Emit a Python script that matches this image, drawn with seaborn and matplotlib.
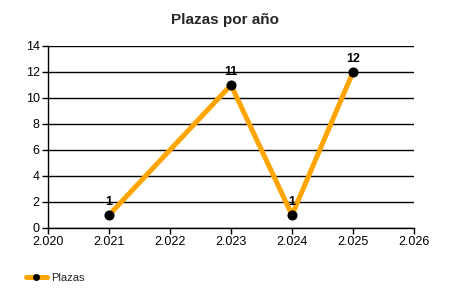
import matplotlib
matplotlib.use("Agg")
import matplotlib.pyplot as plt
import seaborn as sns
import pandas as pd
from matplotlib.ticker import FuncFormatter, MultipleLocator
from matplotlib.lines import Line2D

years = [2021, 2023, 2024, 2025]
plazas = [1, 11, 1, 12]
title = "Plazas por año"
series_name = "Plazas"

sns.set_style("white")
plt.rcParams['font.family'] = ['Liberation Sans', 'DejaVu Sans']

df = pd.DataFrame({"Año": years, series_name: plazas})

fig = plt.figure(figsize=(4.5, 3.0), dpi=100)
ax = fig.add_axes([48/450, 72/300, (414-48)/450, (228-46)/300])

sns.lineplot(data=df, x="Año", y=series_name, ax=ax, color="#FFA500",
             linewidth=3.6, marker="o", markersize=6.5, markerfacecolor="black",
             markeredgecolor="black", label=series_name, legend=False)

for x, y in zip(years, plazas):
    ax.annotate(str(y), (x, y), xytext=(0, 5), textcoords="offset points",
                ha="center", va="bottom", fontsize=9, fontweight="bold", color="black")

ax.set_xlim(2020, 2026)
ax.set_ylim(0, 14)
ax.xaxis.set_major_locator(MultipleLocator(1))
ax.yaxis.set_major_locator(MultipleLocator(2))
ax.xaxis.set_major_formatter(FuncFormatter(lambda v, p: f"{int(round(v)):,}".replace(",", ".")))
ax.set_xlabel("")
ax.set_ylabel("")
ax.grid(axis="y", color="black", linewidth=1)
ax.grid(axis="x", visible=False)
for s in ["top", "right"]:
    ax.spines[s].set_visible(False)
for s in ["left", "bottom"]:
    ax.spines[s].set_color("black")
    ax.spines[s].set_linewidth(1)
ax.tick_params(axis="both", which="major", direction="out", length=4, width=1,
               color="black", labelsize=9, labelcolor="black", bottom=True, left=True, pad=2)

fig.text(0.5, 1 - 20/300, title, ha="center", va="center", fontsize=11, fontweight="bold")

h = Line2D([], [], color="#FFA500", linewidth=3.6, marker="o", markersize=4,
           markerfacecolor="black", markeredgecolor="black")
fig.legend([h], [series_name], loc="center left", bbox_to_anchor=(0.045, 1 - 278/300),
           frameon=False, fontsize=8, handlelength=1.9, handletextpad=0.4, borderpad=0)

fig.savefig("out.png", dpi=100)
